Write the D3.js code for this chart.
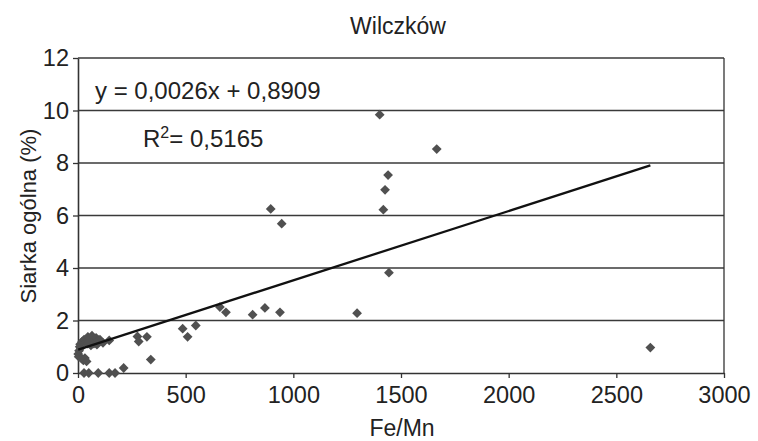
<!DOCTYPE html>
<html>
<head>
<meta charset="utf-8">
<script src="https://cdn.jsdelivr.net/npm/d3@7"></script>
<style>
  body { margin: 0; background: #fff; }
  text { font-family: "Liberation Sans", Arial, sans-serif; fill: #222; }
</style>
</head>
<body>
<div id="chart"></div>
<script>
// Fe/Mn vs total sulphur
const feMn = [1, 3, 5, 8, 12, 17, 25, 32, 40, 10, 20, 28, 35, 46, 55, 65, 74, 84, 95, 102, 116, 145, 60, 45, 88,
              28, 50, 94, 145, 172, 212,
              276, 282, 320, 338, 486, 509, 547, 659, 687, 811, 868, 938, 895, 946,
              1296, 1401, 1418, 1426, 1440, 1444, 1666, 2658];
const siarka = [0.72, 0.62, 0.85, 1.00, 0.95, 0.55, 0.48, 0.57, 0.44, 1.10, 1.20, 1.27, 1.15, 1.38, 1.30, 1.42, 1.12, 1.34, 1.25, 1.27, 1.15, 1.24, 1.05, 1.12, 1.08,
                0, 0, 0, 0, 0, 0.19,
                1.39, 1.20, 1.38, 0.51, 1.69, 1.38, 1.81, 2.51, 2.31, 2.22, 2.48, 2.31, 6.25, 5.69,
                2.28, 9.84, 6.22, 6.98, 7.54, 3.82, 8.53, 0.97];
const xTicks = [0, 500, 1000, 1500, 2000, 2500, 3000];
const yTicks = [0, 2, 4, 6, 8, 10, 12];
// trend line; the label shows the rounded slope
const slope = 0.00264, intercept = 0.8909;
const eqLabel = "y = 0,0026x + 0,8909", r2 = "0,5165";

const width = 758, height = 441;
const margin = {top: 58, right: 34, bottom: 68, left: 78};

const svg = d3.select("#chart").append("svg")
    .attr("width", width)
    .attr("height", height);

const x = d3.scaleLinear().domain([0, 3000]).range([margin.left, width - margin.right]);
const y = d3.scaleLinear().domain([0, 12]).range([height - margin.bottom, margin.top]);

// grid lines
svg.append("g")
    .selectAll("line")
    .data(yTicks.filter(d => d > 0))
    .enter().append("line")
    .attr("x1", x(0)).attr("x2", x(3000))
    .attr("y1", d => y(d)).attr("y2", d => y(d))
    .attr("stroke", "#3a3a3a")
    .attr("stroke-width", 1.3);

// right border
svg.append("line")
    .attr("x1", x(3000)).attr("x2", x(3000))
    .attr("y1", y(0)).attr("y2", y(12))
    .attr("stroke", "#333").attr("stroke-width", 1.3);

const fmt = d => String(d);

const xAxis = svg.append("g")
    .attr("transform", "translate(0," + y(0) + ")")
    .call(d3.axisBottom(x).tickValues(xTicks).tickFormat(fmt).tickSize(5).tickSizeOuter(0).tickPadding(8));
const yAxis = svg.append("g")
    .attr("transform", "translate(" + x(0) + ",0)")
    .call(d3.axisLeft(y).tickValues(yTicks).tickFormat(fmt).tickSize(5).tickSizeOuter(0).tickPadding(4));

[xAxis, yAxis].forEach(g => {
    g.attr("font-family", null).attr("font-size", null);
    g.select(".domain").attr("stroke", "#333").attr("stroke-width", 1.6);
    g.selectAll(".tick line").attr("stroke", "#333").attr("stroke-width", 1.3);
    g.selectAll(".tick text").attr("font-size", "23.5px").attr("fill", "#222");
});

// points
const pts = feMn.map((v, i) => ({fx: v, s: siarka[i]}));
svg.append("g")
    .selectAll("path")
    .data(pts)
    .enter().append("path")
    .attr("d", d3.symbol().type(d3.symbolSquare).size(48))
    .attr("transform", d => "translate(" + x(d.fx) + "," + y(d.s) + ") rotate(45)")
    .attr("fill", "#505050");

// trend line
const xMin = d3.min(feMn), xMax = d3.max(feMn);
svg.append("line")
    .attr("x1", x(xMin)).attr("y1", y(slope * xMin + intercept))
    .attr("x2", x(xMax)).attr("y2", y(slope * xMax + intercept))
    .attr("stroke", "#111")
    .attr("stroke-width", 2.3);

// title and labels
svg.append("text")
    .attr("x", 398).attr("y", 34)
    .attr("text-anchor", "middle")
    .attr("font-size", "23px")
    .text("Wilczków");

svg.append("text")
    .attr("x", 402).attr("y", 436)
    .attr("text-anchor", "middle")
    .attr("font-size", "23px")
    .text("Fe/Mn");

svg.append("text")
    .attr("transform", "translate(36,216) rotate(-90)")
    .attr("text-anchor", "middle")
    .attr("font-size", "22px")
    .text("Siarka ogólna (%)");

svg.append("text")
    .attr("x", 95).attr("y", 99)
    .attr("font-size", "24px")
    .text(eqLabel);

const r2t = svg.append("text")
    .attr("x", 143).attr("y", 147)
    .attr("font-size", "24px");
r2t.append("tspan").text("R");
r2t.append("tspan").attr("dy", -9).attr("font-size", "16px").text("2");
r2t.append("tspan").attr("dy", 9).text("= " + r2);
</script>
</body>
</html>
